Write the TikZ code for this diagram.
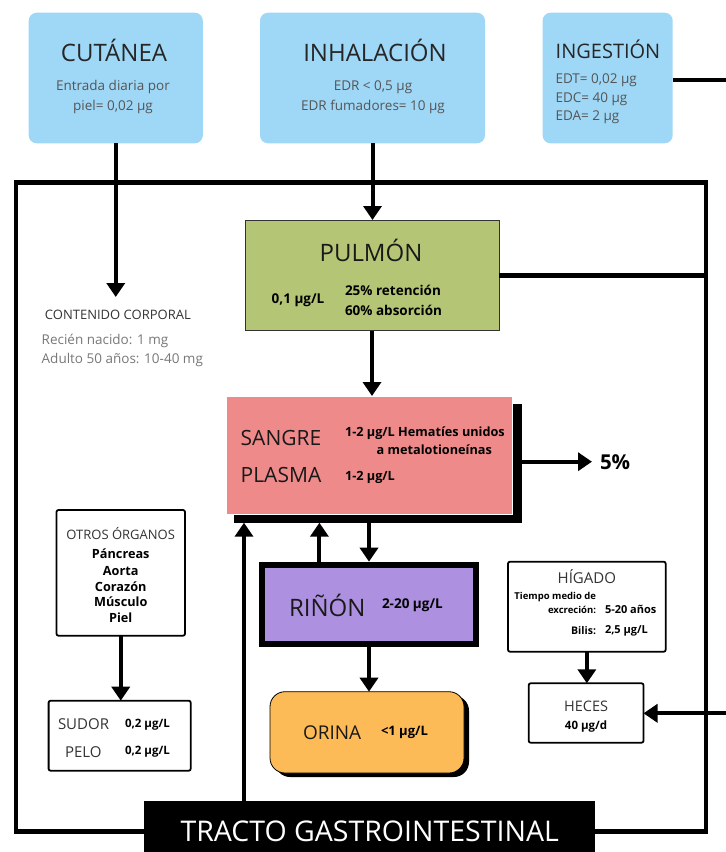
\documentclass[tikz,border=0pt]{standalone}
\usepackage{fontspec}
\setmainfont{Open Sans}
\usetikzlibrary{arrows.meta}
\definecolor{cblue}{HTML}{9FD7F6}
\definecolor{cgreen}{HTML}{B4C676}
\definecolor{cpink}{HTML}{EE8A8A}
\definecolor{cpurple}{HTML}{AE90E0}
\definecolor{corange}{HTML}{FDBB58}
\definecolor{tgray}{HTML}{555555}
\definecolor{tlgray}{HTML}{777777}
\newcommand\fsz[1]{\fontsize{#1}{#1}\selectfont}
\begin{document}
\begin{tikzpicture}[x=1pt,y=-1pt,
  ln/.style={line width=4.5pt},
  arr/.style={line width=4pt,-{Triangle[width=18pt,length=14pt]}},
  boxn/.style={inner sep=0pt,outer sep=0pt},
  bluebox/.style={boxn,fill=cblue,rounded corners=8pt,minimum height=130.6pt},
  wbox/.style={boxn,fill=white,draw=black,line width=1.8pt,rounded corners=2pt},
  tx/.style={inner sep=0pt,outer sep=0pt}]
\useasboundingbox (0,0) rectangle (726,852);
% frame
\coordinate (fTL) at (16,182.7);
\coordinate (fTR) at (706,182.7);
\coordinate (fBR) at (706,831.7);
\coordinate (fBL) at (16,831.7);
\draw[ln] (fTL) rectangle (fBR);
% entry boxes
\node[bluebox,minimum width=174.1pt] (cut) at (115.75,78) {};
\node[bluebox,minimum width=225pt] (inh) at (372.5,78) {};
\node[bluebox,minimum width=130.1pt] (ing) at (607.65,78) {};
\node[tx,font=\fsz{24},text=black!85] (cutT) at (114,50) {CUTÁNEA};
\node[tx,font=\fsz{13.5},text=tgray] (cut1) at (113,87.3) {Entrada diaria por};
\node[tx,font=\fsz{13.5},text=tgray] (cut2) at (113,106.7) {piel= 0,02 µg};
\node[tx,font=\fsz{24},text=black!85] (inhT) at (375,50) {INHALACIÓN};
\node[tx,font=\fsz{13.5},text=tgray] (inh1) at (373,87.3) {EDR < 0,5 µg};
\node[tx,font=\fsz{13.5},text=tgray] (inh2) at (373,106.7) {EDR fumadores= 10 µg};
\node[tx,font=\fsz{20},text=black!85] (ingT) at (608,49.3) {INGESTIÓN};
\node[tx,font=\fsz{13.5},text=tgray,anchor=west] (ing1) at (555.5,80) {EDT= 0,02 µg};
\node[tx,font=\fsz{13.5},text=tgray,anchor=west] (ing2) at (555.5,99.3) {EDC= 40 µg};
\node[tx,font=\fsz{13.5},text=tgray,anchor=west] (ing3) at (555.5,117.3) {EDA= 2 µg};
\coordinate (ingend) at (726,80);
\draw[ln] (ing.east |- ingend) -- (ingend);
% contenido corporal
\coordinate (cutend) at (115.75,297);
\draw[arr] (cut.south) -- (cutend);
\node[tx,font=\fsz{13},text=black!80,anchor=west] (cont) at (45,315) {CONTENIDO CORPORAL};
\node[tx,font=\fsz{13.5},text=tlgray,anchor=west] (cont1) at (41.7,341) {Recién nacido: 1 mg};
\node[tx,font=\fsz{13.5},text=tlgray,anchor=west] (cont2) at (41.7,360) {Adulto 50 años: 10-40 mg};
% pulmon
\node[boxn,fill=cgreen,draw=black!80,line width=0.8pt,minimum width=254pt,minimum height=110.7pt] (pul) at (372,275.35) {};
\draw[arr] (inh.south) -- (inh.south |- pul.north);
\draw[ln] (pul.east) -- (pul.east -| fTR);
\node[tx,font=\fsz{24},text=black!90] (pulT) at (371,250.7) {PULMÓN};
\node[tx,font=\bfseries\fsz{13.5}] (pul1) at (298,300.7) {0,1 µg/L};
\node[tx,font=\bfseries\fsz{13.5},anchor=west] (pul2) at (345,290.7) {25\% retención};
\node[tx,font=\bfseries\fsz{13.5},anchor=west] (pul3) at (345,310) {60\% absorción};
% sangre
\node[boxn,fill=black,minimum width=287.7pt,minimum height=118.7pt] (sangsh) at (377.85,463.35) {};
\node[boxn,fill=cpink,draw=white,line width=1pt,minimum width=286.7pt,minimum height=118pt] (sang) at (369.35,455) {};
\draw[arr] (pul.south) -- (pul.south |- sang.north);
\node[tx,font=\fsz{21},text=black!90,anchor=west] (sangT) at (240.7,438) {SANGRE};
\node[tx,font=\fsz{21},text=black!90,anchor=west] (plasT) at (240.7,475) {PLASMA};
\node[tx,font=\bfseries\fsz{12.7},anchor=west] (sang1) at (345,432.7) {1-2 µg/L Hematíes unidos};
\node[tx,font=\bfseries\fsz{12.7},anchor=west] (sang2) at (376.7,449.3) {a metalotioneínas};
\node[tx,font=\bfseries\fsz{12.7},anchor=west] (plas1) at (345,477) {1-2 µg/L};
\node[tx,font=\bfseries\fsz{20.5},anchor=west] (pct) at (600,461.7) {5\%};
\draw[arr] (sangsh.east |- pct.west) -- ([xshift=-8pt]pct.west);
% rinon
\node[boxn,fill=cpurple,draw=black,line width=6pt,outer sep=3pt,minimum width=214pt,minimum height=79pt] (rin) at (369,604.2) {};
\node[tx,font=\fsz{24},text=black!90,anchor=west] (rinT) at (289,605) {RIÑÓN};
\node[tx,font=\bfseries\fsz{13.5},anchor=west] (rin1) at (382,605) {2-20 µg/L};
\draw[arr] (sangsh.south -| rin.north) -- (rin.north);
\draw[arr] ([xshift=-49.6pt]rin.north) -- ([xshift=-49.6pt]rin.north |- sangsh.south);
% orina
\node[boxn,fill=black,rounded corners=15pt,minimum width=194pt,minimum height=81.3pt] (orinash) at (372,736.35) {};
\node[boxn,fill=corange,draw=black,line width=0.8pt,rounded corners=15pt,minimum width=194pt,minimum height=81.3pt] (orina) at (367,732.35) {};
\draw[arr] (rin.south) -- (rin.south |- orina.north);
\node[tx,font=\fsz{19},text=black!90,anchor=west] (orT) at (303,732.7) {ORINA};
\node[tx,font=\bfseries\fsz{13},anchor=west] (or1) at (381,732.7) {<1 µg/L};
% otros organos
\node[wbox,minimum width=128.5pt,minimum height=125.7pt] (otros) at (120.75,572.85) {};
\node[tx,font=\fsz{13},text=black!80] (otT) at (120.75,533.3) {OTROS ÓRGANOS};
\node[tx,font=\bfseries\fsz{12.7}] (ot1) at (120.75,554) {Páncreas};
\node[tx,font=\bfseries\fsz{12.7}] (ot2) at (120.75,570.7) {Aorta};
\node[tx,font=\bfseries\fsz{12.7}] (ot3) at (120.75,586.7) {Corazón};
\node[tx,font=\bfseries\fsz{12.7}] (ot4) at (120.75,602) {Músculo};
\node[tx,font=\bfseries\fsz{12.7}] (ot5) at (120.75,618) {Piel};
% sudor
\node[wbox,minimum width=142.1pt,minimum height=70pt] (sudor) at (119.65,735.7) {};
\draw[arr] (otros.south) -- (otros.south |- sudor.north);
\node[tx,font=\fsz{15},text=black!80,anchor=west] (su1) at (58,724.3) {SUDOR};
\node[tx,font=\bfseries\fsz{11.5},anchor=west] (su2) at (125,724.3) {0,2 µg/L};
\node[tx,font=\fsz{15},text=black!80,anchor=west] (pe1) at (65,751.7) {PELO};
\node[tx,font=\bfseries\fsz{11.5},anchor=west] (pe2) at (125,751.7) {0,2 µg/L};
% higado
\node[wbox,minimum width=157.7pt,minimum height=90pt] (hig) at (586.85,606.7) {};
\node[tx,font=\fsz{15},text=black!80] (higT) at (586.85,576.7) {HÍGADO};
\node[tx,font=\bfseries\fsz{9.5},anchor=east] (hig1) at (596,596.7) {Tiempo medio de};
\node[tx,font=\bfseries\fsz{9.5},anchor=east] (hig2) at (596,610) {excreción:};
\node[tx,font=\bfseries\fsz{11},anchor=west] (hig3) at (605,609) {5-20 años};
\node[tx,font=\bfseries\fsz{10.5},anchor=east] (hig4) at (596,631) {Bilis:};
\node[tx,font=\bfseries\fsz{11},anchor=west] (hig5) at (605,631) {2,5 µg/L};
% heces
\node[wbox,minimum width=114.8pt,minimum height=59.4pt] (heces) at (586.1,713) {};
\draw[arr] (hig.south) -- (hig.south |- heces.north);
\node[tx,font=\fsz{14.5},text=black!80] (heT) at (586.1,706.7) {HECES};
\node[tx,font=\bfseries\fsz{11.5}] (he1) at (586.1,726.7) {40 µg/d};
\coordinate (hecesin) at (726,713.3);
\draw[arr] (hecesin) -- (heces.east |- hecesin);
% tracto
\node[boxn,fill=black,minimum width=450.6pt,minimum height=56pt] (tracto) at (369.7,828.7) {};
\node[tx,font=\fsz{28.5},text=white] (trT) at (369.7,831.7) {TRACTO GASTROINTESTINAL};
\coordinate (upx) at (244,800);
\draw[arr] (tracto.north -| upx) -- (sangsh.south -| upx);
\end{tikzpicture}
\end{document}
